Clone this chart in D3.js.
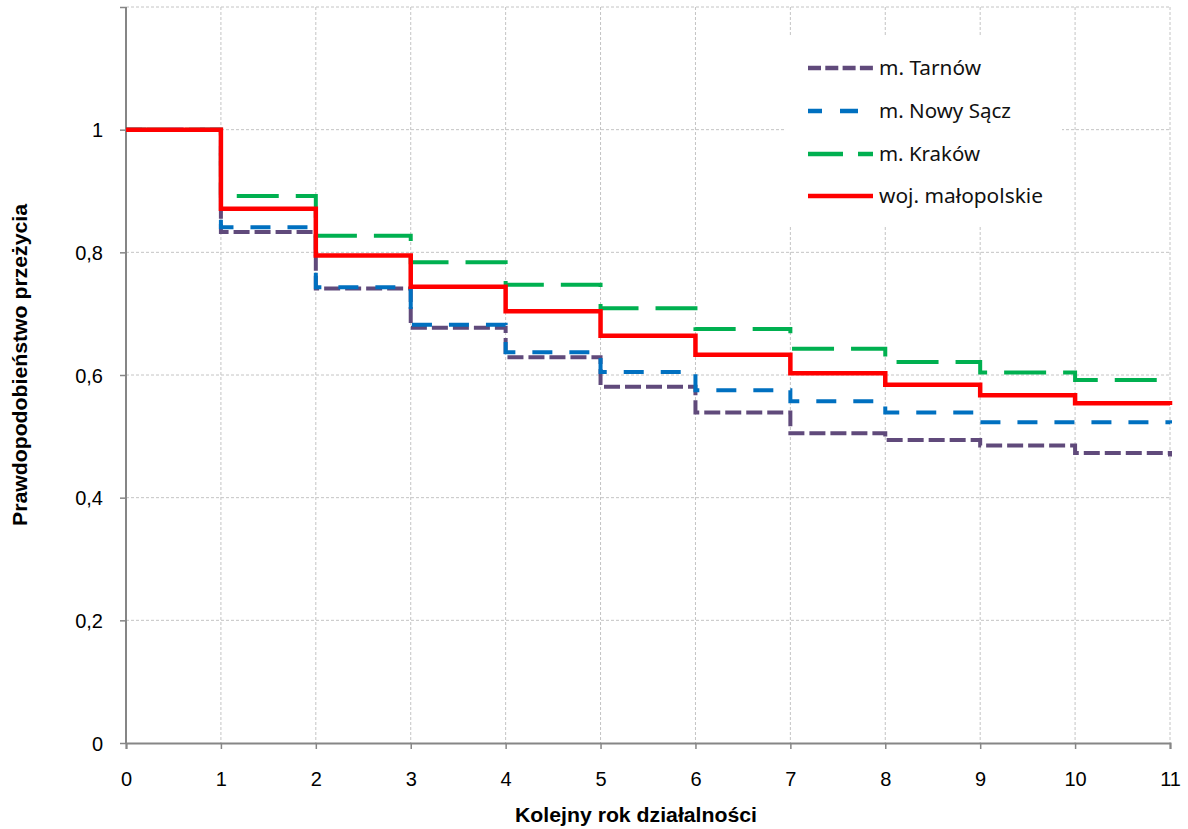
<!DOCTYPE html>
<html><head><meta charset="utf-8">
<script src="https://cdn.jsdelivr.net/npm/d3@7"></script>
<style>body{margin:0;background:#fff}svg{display:block}</style>
</head><body>
<svg id="c" width="1188" height="829"></svg>
<script>
const years = [0,1,2,3,4,5,6,7,8,9,10,11];
const yTicks = [0,0.2,0.4,0.6,0.8,1,1.2];
const yTickLabels = ["0","0,2","0,4","0,6","0,8","1",""];
const seriesNames = ["m. Tarnów","m. Nowy Sącz","m. Kraków","woj. małopolskie"];
const tarnow   = [1,0.833,0.741,0.677,0.629,0.581,0.539,0.505,0.494,0.485,0.473,0.467];
const nowySacz = [1,0.841,0.743,0.682,0.637,0.605,0.575,0.557,0.539,0.523,0.523,0.521];
const krakow   = [1,0.892,0.827,0.784,0.747,0.709,0.675,0.643,0.621,0.604,0.592,0.590];
const wojMal   = [1,0.871,0.795,0.744,0.704,0.664,0.633,0.603,0.584,0.567,0.554,0.551];
const xTitle = "Kolejny rok działalności";
const yTitle = "Prawdopodobieństwo przeżycia";

const styles = [
  {color:"#604A7B", dash:"16,5", w:4, legDash:"13,4.3"},
  {color:"#0070C0", dash:"20,17", w:4, legDash:"14,18,18,100"},
  {color:"#00B050", dash:"42,17", w:4, legDash:"35,15,15,100"},
  {color:"#FF0000", dash:null, w:4.5, legDash:null}
];
const allSeries = [tarnow, nowySacz, krakow, wojMal];

const svg = d3.select("#c");
const L=126, R=1170, T=7, B=743;
const x = d3.scaleLinear().domain([0,11]).range([L,R]);
const y = d3.scaleLinear().domain([0,1.2]).range([B,T]);
const FONT = "'Liberation Sans', Arial, sans-serif";

// grid
const grid = svg.append("g").attr("stroke","#c4c4c4").attr("stroke-width",1).attr("stroke-dasharray","3,2");
yTicks.filter(d=>d>0).forEach(v=>grid.append("line").attr("x1",L).attr("x2",R).attr("y1",y(v)).attr("y2",y(v)));
years.filter(d=>d>0).forEach(v=>grid.append("line").attr("x1",x(v)).attr("x2",x(v)).attr("y1",T).attr("y2",B));

// axes
const axisColor="#868686";
const yAxis = svg.append("g").attr("transform",`translate(${L},0)`)
  .call(d3.axisLeft(y).tickValues(yTicks).tickSize(6).tickFormat((d,i)=>yTickLabels[i]));
const xAxis = svg.append("g").attr("transform",`translate(0,${B})`)
  .call(d3.axisBottom(x).tickValues(years).tickSize(6).tickFormat(d=>String(d)));
[yAxis,xAxis].forEach(g=>{
  g.select(".domain").attr("stroke",axisColor).attr("stroke-width",2);
  g.selectAll(".tick line").attr("stroke",axisColor).attr("stroke-width",1.5);
  g.selectAll(".tick text").attr("fill","#000").attr("font-family",FONT).attr("font-size",20);
});
yAxis.select(".domain").attr("d",`M0,${T}V${B}`);
yAxis.selectAll(".tick text").attr("x",-23).attr("dy","0.36em");
xAxis.selectAll(".tick text").attr("dy",0).attr("y",43);

// lines
const line = d3.line().x((d,i)=>x(years[i])).y(d=>y(d)).curve(d3.curveStepAfter);
allSeries.forEach((s,i)=>{
  const st=styles[i];
  svg.append("path").datum(s).attr("d",line).attr("fill","none")
    .attr("stroke",st.color).attr("stroke-width",st.w)
    .attr("stroke-dasharray",st.dash).attr("stroke-linecap","butt").attr("stroke-linejoin","miter");
});

// legend
const leg = svg.append("g");
leg.append("rect").attr("x",785).attr("y",37).attr("width",277).attr("height",188).attr("fill","#fff");
const legY=[68,111,154,196];
const legW=[102,132,101,164];
seriesNames.forEach((n,i)=>{
  const st=styles[i];
  leg.append("line").attr("x1",808).attr("x2",873).attr("y1",legY[i]).attr("y2",legY[i])
    .attr("stroke",st.color).attr("stroke-width",4.5).attr("stroke-dasharray",st.legDash);
  leg.append("text").attr("x",879).attr("y",legY[i]+7).text(n)
    .attr("font-family","'Noto Sans', sans-serif").attr("font-size",19).attr("fill","#111")
    .attr("textLength",legW[i]).attr("lengthAdjust","spacingAndGlyphs");
});

// titles
svg.append("text").attr("x",636).attr("y",822).attr("text-anchor","middle")
  .attr("font-family",FONT).attr("font-weight","bold").attr("font-size",20)
  .attr("textLength",242).attr("lengthAdjust","spacingAndGlyphs").text(xTitle);
svg.append("text").attr("transform","translate(27,365) rotate(-90)").attr("text-anchor","middle")
  .attr("font-family",FONT).attr("font-weight","bold").attr("font-size",20)
  .attr("textLength",322).attr("lengthAdjust","spacingAndGlyphs").text(yTitle);
</script>
</body></html>
